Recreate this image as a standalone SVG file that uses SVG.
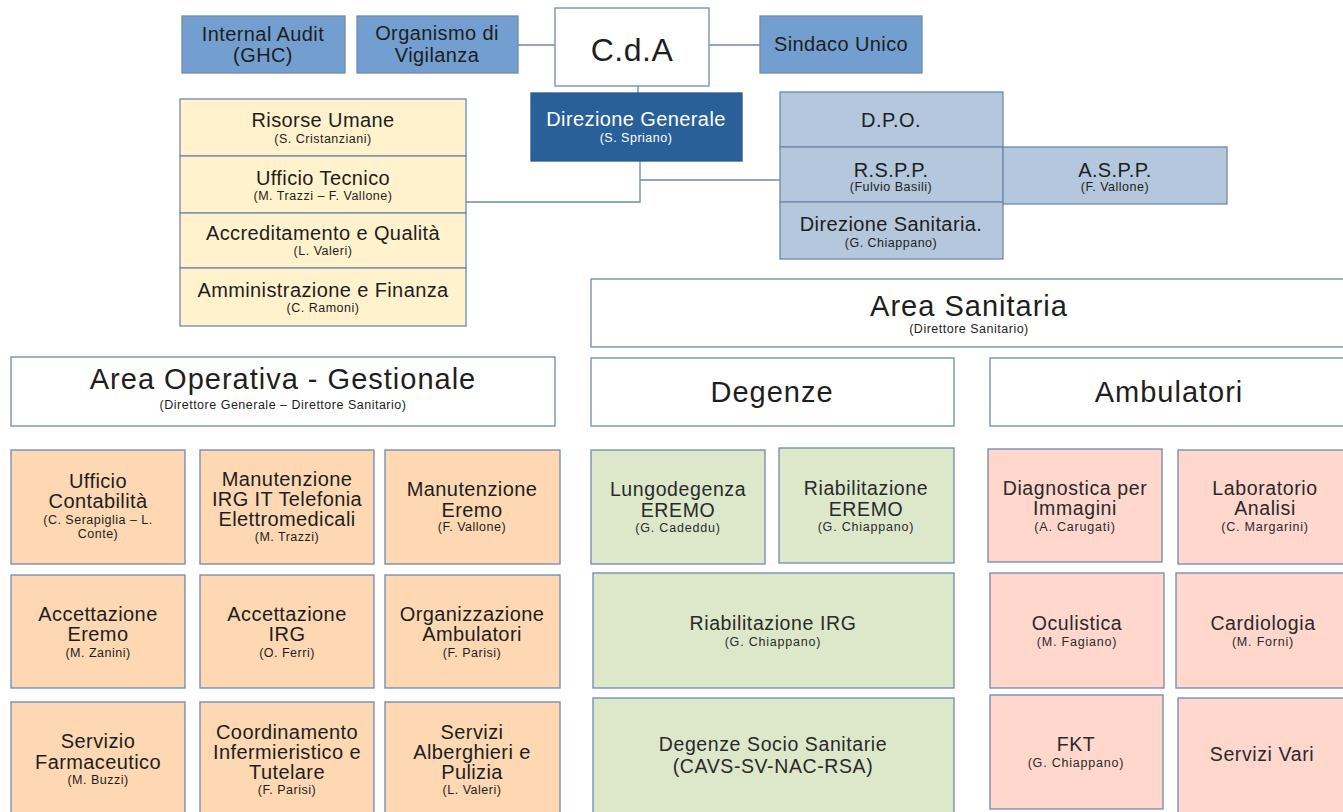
<svg xmlns="http://www.w3.org/2000/svg" width="1343" height="812" viewBox="0 0 1343 812">
<style>
rect{stroke:#7189b0;stroke-width:1.3}
.mid{fill:#729fcf}
.dk{fill:#2a6099;stroke:#2a5a8f}
.lb{fill:#b4c7dc}
.yl{fill:#fff2cc}
.or{fill:#fdd8b2}
.gr{fill:#dde8cb}
.pk{fill:#ffd7cc}
.wh{fill:#ffffff}
text{font-family:"Liberation Sans",Arial,sans-serif;text-anchor:middle;fill:#1e1e1e}
.m{font-size:20px;letter-spacing:0.4px}
.s{font-size:12.5px;letter-spacing:0.5px}
.g{font-size:19.5px;letter-spacing:0.6px;fill:#2a2a2a}
.gs{font-size:12.5px;letter-spacing:0.8px;fill:#2a2a2a}
.h{font-size:29px;letter-spacing:1px}
.w{fill:#ffffff}
.c line,.c polyline{stroke:#7189b0;stroke-width:1.3;fill:none}
</style>

<g class="c" id="connectors">
<line x1="518" y1="45" x2="555" y2="45"/>
<line x1="709" y1="45" x2="760" y2="45"/>
<line x1="638" y1="86" x2="638" y2="93"/>
<polyline points="466,202 640,202 640,161"/>
<line x1="640" y1="180" x2="780" y2="180"/>
</g>

<g id="internal-audit"><rect class="mid" x="182" y="16" width="163" height="57"/>
<text class="m" x="263" y="41">Internal Audit</text><text class="m" x="263" y="62">(GHC)</text></g>
<g id="organismo"><rect class="mid" x="357" y="16" width="161" height="57"/>
<text class="m" x="437" y="40">Organismo di</text><text class="m" x="437" y="62">Vigilanza</text></g>
<g id="cda"><rect class="wh" x="555" y="8" width="154" height="78"/>
<text x="632" y="61" style="font-size:32px;letter-spacing:0.5px">C.d.A</text></g>
<g id="sindaco"><rect class="mid" x="760" y="16" width="162" height="57"/>
<text class="m" x="841" y="51">Sindaco Unico</text></g>

<g id="direzione-generale"><rect class="dk" x="531" y="93" width="211" height="68"/>
<text class="m w" x="636" y="126">Direzione Generale</text><text class="s w" x="636" y="142">(S. Spriano)</text></g>

<g id="risorse-umane"><rect class="yl" x="180" y="99" width="286" height="57"/>
<text class="m" x="323" y="127">Risorse Umane</text><text class="s" x="323" y="143">(S. Cristanziani)</text></g>
<g id="ufficio-tecnico"><rect class="yl" x="180" y="156" width="286" height="57"/>
<text class="m" x="323" y="185">Ufficio Tecnico</text><text class="s" x="323" y="200">(M. Trazzi – F. Vallone)</text></g>
<g id="accreditamento"><rect class="yl" x="180" y="213" width="286" height="55"/>
<text class="m" x="323" y="240">Accreditamento e Qualità</text><text class="s" x="323" y="255">(L. Valeri)</text></g>
<g id="amministrazione"><rect class="yl" x="180" y="268" width="286" height="58"/>
<text class="m" x="323" y="297">Amministrazione e Finanza</text><text class="s" x="323" y="312">(C. Ramoni)</text></g>

<g id="dpo"><rect class="lb" x="780" y="92" width="223" height="55"/>
<text class="m" x="891" y="127">D.P.O.</text></g>
<g id="rspp"><rect class="lb" x="780" y="147" width="223" height="55"/>
<text class="m" x="891" y="177">R.S.P.P.</text><text class="s" x="891" y="191">(Fulvio Basili)</text></g>
<g id="aspp"><rect class="lb" x="1003" y="147" width="224" height="57"/>
<text class="m" x="1115" y="177">A.S.P.P.</text><text class="s" x="1115" y="191">(F. Vallone)</text></g>
<g id="direzione-sanitaria"><rect class="lb" x="780" y="202" width="223" height="57"/>
<text class="m" x="891" y="231">Direzione Sanitaria.</text><text class="s" x="891" y="247">(G. Chiappano)</text></g>

<g id="area-sanitaria"><rect class="wh" x="591" y="279" width="760" height="68"/>
<text class="h" x="969" y="316">Area Sanitaria</text><text class="s" x="969" y="333">(Direttore Sanitario)</text></g>
<g id="area-operativa"><rect class="wh" x="11" y="357" width="544" height="69"/>
<text class="h" x="283" y="389">Area Operativa - Gestionale</text><text class="s" x="283" y="409">(Direttore Generale – Direttore Sanitario)</text></g>
<g id="degenze"><rect class="wh" x="591" y="358" width="363" height="68"/>
<text class="h" x="772" y="402">Degenze</text></g>
<g id="ambulatori"><rect class="wh" x="990" y="358" width="360" height="68"/>
<text class="h" x="1169" y="402">Ambulatori</text></g>

<g id="ufficio-contabilita"><rect class="or" x="11" y="450" width="174" height="114"/>
<text class="m" x="98" y="488">Ufficio</text><text class="m" x="98" y="508">Contabilità</text>
<text class="s" x="98" y="524">(C. Serapiglia – L.</text><text class="s" x="98" y="538">Conte)</text></g>
<g id="manutenzione-irg"><rect class="or" x="200" y="450" width="174" height="114"/>
<text class="m" x="287" y="486">Manutenzione</text><text class="m" x="287" y="506">IRG IT Telefonia</text>
<text class="m" x="287" y="526">Elettromedicali</text><text class="s" x="287" y="541">(M. Trazzi)</text></g>
<g id="manutenzione-eremo"><rect class="or" x="385" y="450" width="175" height="114"/>
<text class="m" x="472" y="496">Manutenzione</text><text class="m" x="472" y="517">Eremo</text>
<text class="s" x="472" y="531">(F. Vallone)</text></g>

<g id="accettazione-eremo"><rect class="or" x="11" y="575" width="174" height="113"/>
<text class="m" x="98" y="621">Accettazione</text><text class="m" x="98" y="641">Eremo</text>
<text class="s" x="98" y="657">(M. Zanini)</text></g>
<g id="accettazione-irg"><rect class="or" x="200" y="575" width="174" height="113"/>
<text class="m" x="287" y="621">Accettazione</text><text class="m" x="287" y="641">IRG</text>
<text class="s" x="287" y="657">(O. Ferri)</text></g>
<g id="organizzazione-ambulatori"><rect class="or" x="385" y="575" width="175" height="113"/>
<text class="m" x="472" y="621">Organizzazione</text><text class="m" x="472" y="641">Ambulatori</text>
<text class="s" x="472" y="657">(F. Parisi)</text></g>

<g id="servizio-farmaceutico"><rect class="or" x="11" y="702" width="174" height="115"/>
<text class="m" x="98" y="748">Servizio</text><text class="m" x="98" y="769">Farmaceutico</text>
<text class="s" x="98" y="784">(M. Buzzi)</text></g>
<g id="coordinamento"><rect class="or" x="200" y="702" width="174" height="115"/>
<text class="m" x="287" y="739">Coordinamento</text><text class="m" x="287" y="759">Infermieristico e</text>
<text class="m" x="287" y="779">Tutelare</text><text class="s" x="287" y="794">(F. Parisi)</text></g>
<g id="servizi-alberghieri"><rect class="or" x="385" y="702" width="175" height="115"/>
<text class="m" x="472" y="739">Servizi</text><text class="m" x="472" y="759">Alberghieri e</text>
<text class="m" x="472" y="779">Pulizia</text><text class="s" x="472" y="794">(L. Valeri)</text></g>

<g id="lungodegenza"><rect class="gr" x="591" y="450" width="174" height="114"/>
<text class="g" x="678" y="496">Lungodegenza</text><text class="g" x="678" y="517">EREMO</text>
<text class="gs" x="678" y="532">(G. Cadeddu)</text></g>
<g id="riabilitazione-eremo"><rect class="gr" x="779" y="448" width="175" height="115"/>
<text class="g" x="866" y="495">Riabilitazione</text><text class="g" x="866" y="516">EREMO</text>
<text class="gs" x="866" y="531">(G. Chiappano)</text></g>
<g id="riabilitazione-irg"><rect class="gr" x="593" y="573" width="361" height="115"/>
<text class="g" x="773" y="630">Riabilitazione IRG</text><text class="gs" x="773" y="646">(G. Chiappano)</text></g>
<g id="degenze-socio"><rect class="gr" x="593" y="698" width="361" height="120"/>
<text class="g" x="773" y="751">Degenze Socio Sanitarie</text><text class="g" x="773" y="773">(CAVS-SV-NAC-RSA)</text></g>

<g id="diagnostica"><rect class="pk" x="988" y="449" width="174" height="113"/>
<text class="g" x="1075" y="495">Diagnostica per</text><text class="g" x="1075" y="515">Immagini</text>
<text class="gs" x="1075" y="531">(A. Carugati)</text></g>
<g id="laboratorio"><rect class="pk" x="1178" y="450" width="174" height="114"/>
<text class="g" x="1265" y="495">Laboratorio</text><text class="g" x="1265" y="515">Analisi</text>
<text class="gs" x="1265" y="531">(C. Margarini)</text></g>
<g id="oculistica"><rect class="pk" x="990" y="573" width="174" height="115"/>
<text class="g" x="1077" y="630">Oculistica</text><text class="gs" x="1077" y="646">(M. Fagiano)</text></g>
<g id="cardiologia"><rect class="pk" x="1176" y="573" width="174" height="115"/>
<text class="g" x="1263" y="630">Cardiologia</text><text class="gs" x="1263" y="646">(M. Forni)</text></g>
<g id="fkt"><rect class="pk" x="990" y="695" width="173" height="114"/>
<text class="g" x="1076" y="751">FKT</text><text class="gs" x="1076" y="767">(G. Chiappano)</text></g>
<g id="servizi-vari"><rect class="pk" x="1178" y="698" width="174" height="120"/>
<text class="g" x="1262" y="761">Servizi Vari</text></g>
</svg>
